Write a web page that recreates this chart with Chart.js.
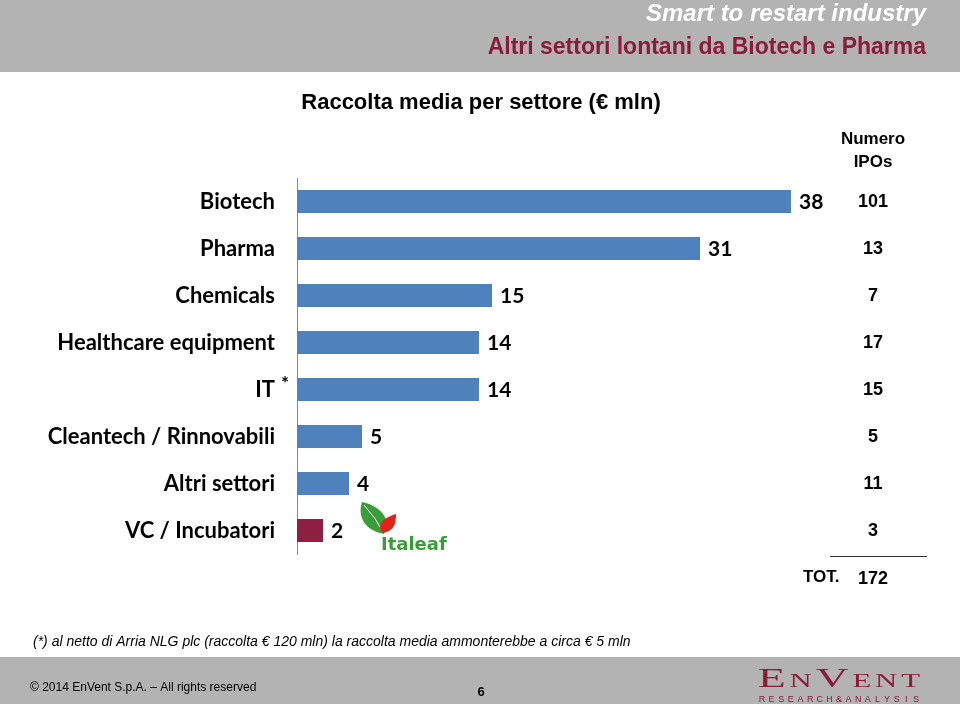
<!DOCTYPE html>
<html>
<head>
<meta charset="utf-8">
<title>Raccolta media per settore</title>
<script src="https://cdn.jsdelivr.net/npm/chart.js@4.4.1/dist/chart.umd.min.js"></script>
<style>
  html, body { margin: 0; padding: 0; background: #fff; }
  #wrap { position: relative; width: 960px; height: 704px; }
</style>
</head>
<body>
<div id="wrap"><canvas id="chart" width="960" height="704"></canvas></div>
<script>
// Data
const categories = ['Biotech', 'Pharma', 'Chemicals', 'Healthcare equipment', 'IT', 'Cleantech / Rinnovabili', 'Altri settori', 'VC / Incubatori'];
const raccoltaMedia = [38, 31, 15, 14, 14, 5, 4, 2];
const numeroIpo = [101, 13, 7, 17, 15, 5, 11, 3];
const xTicks = [0, 50];

const BLUE = '#4f81bd';
const MAROON = '#8e1f43';
const HEADER_RED = '#8b1a3c';
const BAND_GREY = '#b3b3b3';
const LABEL_FONT = 'Lato, "Open Sans", sans-serif';
const ARIAL = '"Liberation Sans", Arial, sans-serif';

// Background bands, header, footer, side column
const decorPlugin = {
    id: 'decor',
    beforeDraw(chart) {
        const ctx = chart.ctx;
        ctx.save();
        ctx.fillStyle = '#fff';
        ctx.fillRect(0, 0, chart.width, chart.height);
        ctx.fillStyle = BAND_GREY;
        ctx.fillRect(0, 0, chart.width, 72);
        ctx.fillRect(0, 657, chart.width, 47);
        ctx.restore();
    },
    afterDraw(chart) {
        const ctx = chart.ctx;
        const y = chart.scales.y;
        const meta = chart.getDatasetMeta(0);
        ctx.save();

        // header
        ctx.textAlign = 'right';
        ctx.textBaseline = 'middle';
        ctx.fillStyle = '#fff';
        ctx.font = 'italic bold 24px ' + ARIAL;
        ctx.fillText('Smart to restart industry', 926, 14);
        ctx.fillStyle = HEADER_RED;
        ctx.font = 'bold 23px ' + ARIAL;
        ctx.fillText('Altri settori lontani da Biotech e Pharma', 926, 48);

        // chart title
        ctx.textAlign = 'center';
        ctx.fillStyle = '#000';
        ctx.font = 'bold 22px ' + ARIAL;
        ctx.fillText('Raccolta media per settore (\u20ac mln)', 481, 103);

        // value labels at bar ends
        ctx.textAlign = 'left';
        ctx.font = 'bold 21px ' + LABEL_FONT;
        meta.data.forEach(function(bar, i) {
            ctx.fillText(String(raccoltaMedia[i]), bar.x + 8, bar.y + 1);
        });

        // asterisk next to IT
        const itY = y.getPixelForValue(categories.indexOf('IT'));
        ctx.font = 'bold 19px ' + LABEL_FONT;
        ctx.fillText('*', 281, itY - 6);

        // Numero IPOs column
        ctx.textAlign = 'center';
        ctx.font = 'bold 17px ' + ARIAL;
        ctx.fillText('Numero', 873, 139);
        ctx.fillText('IPOs', 873, 162);
        ctx.font = 'bold 18px ' + ARIAL;
        numeroIpo.forEach(function(n, i) {
            ctx.fillText(String(n), 873, y.getPixelForValue(i) + 1);
        });
        const totale = numeroIpo.reduce(function(a, b) { return a + b; }, 0);
        ctx.strokeStyle = '#333';
        ctx.lineWidth = 1;
        ctx.beginPath();
        ctx.moveTo(830, 556.5);
        ctx.lineTo(927, 556.5);
        ctx.stroke();
        ctx.fillText(String(totale), 873, 579);
        ctx.textAlign = 'left';
        ctx.font = 'bold 17px ' + ARIAL;
        ctx.fillText('TOT.', 803, 577);

        // footnote
        ctx.font = 'italic 14px ' + ARIAL;
        ctx.fillText('(*) al netto di Arria NLG plc (raccolta \u20ac 120 mln) la raccolta media ammonterebbe a circa \u20ac 5 mln', 33, 642);

        // footer
        ctx.font = '12px ' + ARIAL;
        ctx.fillText('\u00a9 2014 EnVent S.p.A. \u2013 All rights reserved', 30, 688);
        ctx.textAlign = 'center';
        ctx.font = 'bold 13px ' + ARIAL;
        ctx.fillText('6', 481, 692);

        // EnVent logo
        ctx.fillStyle = HEADER_RED;
        ctx.textAlign = 'left';
        ctx.textBaseline = 'alphabetic';
        const parts = [['E', 28], ['N', 19], ['V', 28], ['E', 19], ['N', 19], ['T', 19]];
        let total = 0;
        parts.forEach(function(p) {
            ctx.font = p[1] + 'px "Liberation Serif", serif';
            total += ctx.measureText(p[0]).width;
        });
        const sx = 162 / (total + 12);
        ctx.save();
        ctx.translate(758, 687);
        ctx.scale(sx, 1);
        let lx = 0;
        parts.forEach(function(p) {
            ctx.font = p[1] + 'px "Liberation Serif", serif';
            ctx.fillText(p[0], lx, 0);
            lx += ctx.measureText(p[0]).width + 2.4;
        });
        ctx.restore();
        ctx.font = '9px ' + ARIAL;
        ctx.textAlign = 'center';
        const sub = 'RESEARCH&ANALYSIS';
        const step = (916 - 762) / (sub.length - 1);
        for (let k = 0; k < sub.length; k++) {
            ctx.fillText(sub[k], 762 + k * step, 702);
        }

        // Italeaf logo
        ctx.textAlign = 'left';
        ctx.fillStyle = '#3a9d3a';
        ctx.beginPath();
        ctx.moveTo(384, 534);
        ctx.bezierCurveTo(362, 530, 358, 514, 362, 502);
        ctx.bezierCurveTo(380, 506, 392, 518, 384, 534);
        ctx.fill();
        ctx.strokeStyle = '#fff';
        ctx.lineWidth = 1;
        ctx.beginPath();
        ctx.moveTo(364, 505);
        ctx.quadraticCurveTo(376, 518, 383, 532);
        ctx.stroke();
        ctx.fillStyle = '#e2231a';
        ctx.beginPath();
        ctx.moveTo(383, 533);
        ctx.bezierCurveTo(376, 526, 382, 518, 396, 514);
        ctx.bezierCurveTo(396, 524, 394, 531, 383, 533);
        ctx.fill();
        ctx.fillStyle = '#3a9d3a';
        ctx.font = 'bold 18px "DejaVu Sans", sans-serif';
        ctx.fillText('Italeaf', 381, 550);

        ctx.restore();
    }
};

new Chart(document.getElementById('chart'), {
    type: 'bar',
    data: {
        labels: categories,
        datasets: [{
            data: raccoltaMedia,
            backgroundColor: function(c) {
                return c.dataIndex === categories.length - 1 ? MAROON : BLUE;
            },
            categoryPercentage: 1,
            barPercentage: 0.49,
            borderWidth: 0
        }]
    },
    options: {
        indexAxis: 'y',
        responsive: false,
        animation: false,
        devicePixelRatio: 1,
        layout: { padding: { top: 178, bottom: 150, left: 0, right: 13 } },
        plugins: {
            legend: { display: false },
            tooltip: { enabled: false },
            title: { display: false }
        },
        scales: {
            x: {
                display: false,
                min: xTicks[0],
                max: xTicks[1]
            },
            y: {
                grid: { display: false, drawTicks: false },
                border: { display: true, color: '#8c8c8c', width: 1 },
                ticks: {
                    color: '#000',
                    padding: 22,
                    font: { family: LABEL_FONT, size: 22, weight: 'bold' }
                },
                afterFit: function(scale) { scale.width = 297; }
            }
        }
    },
    plugins: [decorPlugin]
});
</script>
</body>
</html>
